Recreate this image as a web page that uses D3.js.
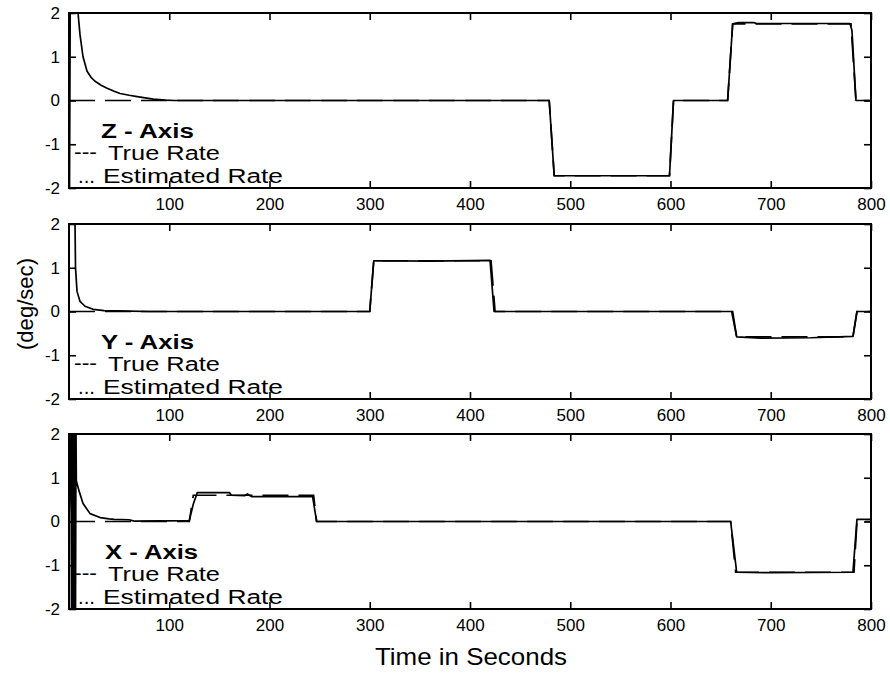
<!DOCTYPE html>
<html>
<head>
<meta charset="utf-8">
<script src="https://cdn.jsdelivr.net/npm/d3@7/dist/d3.min.js"></script>
<style>
  html, body { margin: 0; padding: 0; background: #fff; }
  svg { display: block; font-family: "Liberation Sans", Arial, sans-serif; }
</style>
</head>
<body>
<svg id="chart" width="890" height="675"></svg>
<script>
// ---------------- data ----------------
const timeTicks = [100, 200, 300, 400, 500, 600, 700, 800];
const rateTicks = [-2, -1, 0, 1, 2];
const panelNames = ["Z - Axis", "Y - Axis", "X - Axis"];
const legendLabels = ["True Rate", "Estimated Rate"];
const legendMarks = ["---", "..."];

// Z axis: [time (s), rate (deg/sec)]
const zTrue = [[0,0],[479,0],[484,-1.72],[599,-1.72],[603,0],[657,0],[662,1.75],[780,1.75],[785,0],[800,0]];
const zEstimated = [[0,2],[0.5,-2],[1.2,2],[9,2],[11,1.5],[14,1.0],[18,0.67],[22,0.53],[26,0.44],[32,0.35],[38,0.28],[45,0.21],[51,0.16],[60,0.12],[68,0.09],[76,0.06],[84,0.03],[96,0.01],[105,0],[479,0],[484,-1.72],[599,-1.72],[603,0],[657,0],[662,1.75],[668,1.78],[683,1.78],[686,1.76],[779,1.76],[781,1.6],[785,0],[800,0]];

// Y axis
const yTrue = [[0,0],[300,0],[304,1.16],[421,1.16],[425,0],[662,0],[666,-0.58],[782,-0.58],[786,0],[800,0]];
const yEstimated = [[0,2],[6,2],[6.5,1],[8,0.46],[11,0.23],[16,0.12],[24,0.05],[35,0.02],[60,0.01],[80,0],[300,0],[304,1.16],[360,1.15],[420,1.17],[424,0],[661,0],[666,-0.58],[690,-0.61],[740,-0.6],[782,-0.57],[786,0],[800,0]];

// X axis
const xTrue = [[0,0],[120,0],[124,0.6],[244,0.6],[247,0],[660,0],[665,-1.16],[783,-1.16],[786,0],[800,0]];
const xEstimated = [[0,0],[2,2],[2.5,-2],[3,2],[3.5,-2],[4,2],[4.5,-2],[5,2],[5.5,-2],[6,2],[6.5,-2],[7,2],[7.3,0.93],[10,0.7],[14,0.41],[21,0.18],[31,0.09],[40,0.06],[45,0.05],[60,0.04],[65,0.01],[120,0.02],[124,0.4],[128,0.66],[160,0.66],[162,0.6],[175,0.59],[178,0.63],[182,0.57],[243,0.57],[247,0],[660,0],[666,-1.16],[700,-1.17],[782,-1.16],[786,0.05],[800,0.05]];

const trueSeries = [zTrue, yTrue, xTrue];
const estSeries = [zEstimated, yEstimated, xEstimated];

// ---------------- layout ----------------
const svg = d3.select("#chart");
const left = 69, right = 871;
const panelTops = [13, 224, 434];
const panelH = 175;

const x = d3.scaleLinear().domain([0, 800]).range([left, right]);

const defs = svg.append("defs");

panelTops.forEach((top, i) => {
  const bottom = top + panelH;
  const y = d3.scaleLinear().domain([-2, 2]).range([bottom, top]);
  const g = svg.append("g");

  defs.append("clipPath").attr("id", "clip" + i)
    .append("rect").attr("x", left).attr("y", top)
    .attr("width", right - left).attr("height", panelH);

  const line = d3.line().x(d => x(d[0])).y(d => y(d[1]));

  const plot = g.append("g").attr("clip-path", `url(#clip${i})`);
  plot.append("path").datum(estSeries[i])
    .attr("d", line).attr("fill", "none")
    .attr("stroke", "#000").attr("stroke-width", 1.7)
    .attr("stroke-linejoin", "round");
  plot.append("path").datum(trueSeries[i])
    .attr("d", line).attr("fill", "none")
    .attr("stroke", "#000").attr("stroke-width", 1.7)
    .attr("stroke-dasharray", "26,10");

  // axes
  const axB = g.append("g").attr("transform", `translate(0,${bottom})`)
    .call(d3.axisBottom(x).tickValues(timeTicks).tickFormat(d => String(d))
      .tickSize(-7).tickSizeOuter(0).tickPadding(10));
  const axT = g.append("g").attr("transform", `translate(0,${top})`)
    .call(d3.axisTop(x).tickValues(timeTicks).tickFormat("")
      .tickSize(-7).tickSizeOuter(0));
  const axL = g.append("g").attr("transform", `translate(${left},0)`)
    .call(d3.axisLeft(y).tickValues(rateTicks).tickFormat(d => String(d))
      .tickSize(-7).tickSizeOuter(0).tickPadding(9));
  const axR = g.append("g").attr("transform", `translate(${right},0)`)
    .call(d3.axisRight(y).tickValues(rateTicks).tickFormat("")
      .tickSize(-7).tickSizeOuter(0));

  [axB, axT, axL, axR].forEach(a => {
    a.select(".domain").remove();
    a.selectAll(".tick line").attr("stroke", "#000").attr("stroke-width", 1.6);
    a.selectAll("text").attr("fill", "#000").style("font-size", "17px")
      .style("font-family", '"Liberation Sans", Arial, sans-serif');
  });

  g.append("rect").attr("x", left).attr("y", top)
    .attr("width", right - left).attr("height", panelH)
    .attr("fill", "none").attr("stroke", "#000").attr("stroke-width", 2);

  // legend text
  g.append("text").attr("x", 101 + (i === 2 ? 4 : 0)).attr("y", top + 125)
    .attr("font-size", 20).attr("font-weight", "bold")
    .attr("textLength", 93).attr("lengthAdjust", "spacingAndGlyphs")
    .text(panelNames[i]);
  g.append("text").attr("x", 74).attr("y", top + 146)
    .attr("font-size", 20).attr("textLength", 23).attr("lengthAdjust", "spacingAndGlyphs")
    .text(legendMarks[0]);
  g.append("text").attr("x", 108).attr("y", top + 147)
    .attr("font-size", 20).attr("textLength", 112).attr("lengthAdjust", "spacingAndGlyphs")
    .text(legendLabels[0]);
  g.append("text").attr("x", 78).attr("y", top + 170)
    .attr("font-size", 20).attr("textLength", 17).attr("lengthAdjust", "spacingAndGlyphs")
    .text(legendMarks[1]);
  g.append("text").attr("x", 103).attr("y", top + 170)
    .attr("font-size", 20).attr("textLength", 180).attr("lengthAdjust", "spacingAndGlyphs")
    .text(legendLabels[1]);
});

svg.append("text").attr("x", 471).attr("y", 665)
  .attr("text-anchor", "middle").attr("font-size", 24)
  .attr("textLength", 192).attr("lengthAdjust", "spacingAndGlyphs")
  .text("Time in Seconds");

svg.append("text").attr("transform", "translate(33,304) rotate(-90)")
  .attr("text-anchor", "middle").attr("font-size", 22)
  .attr("textLength", 92).attr("lengthAdjust", "spacingAndGlyphs")
  .text("(deg/sec)");
</script>
</body>
</html>
